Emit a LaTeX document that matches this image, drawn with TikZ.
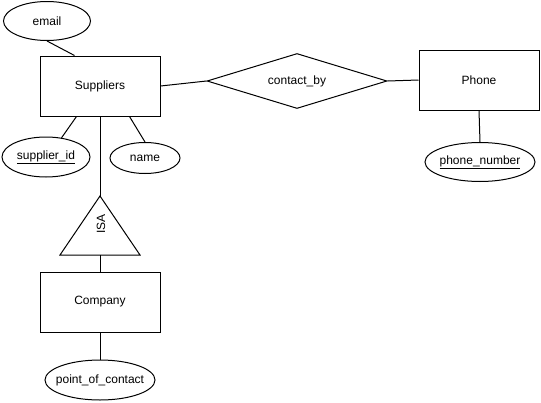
\documentclass[tikz,border=0pt]{standalone}
\usepackage{fontspec}
\setmainfont{Liberation Sans}
\usetikzlibrary{shapes.geometric}

% attribute labels take no width, so each ellipse keeps its set size
\newcommand{\attrlabel}[1]{\makebox[0pt]{#1}}

\begin{document}
\begin{tikzpicture}[x=1pt,y=-1pt,
  line width=1pt,
  every node/.style={font=\fontsize{12}{14}\selectfont, text=black},
  entity/.style={draw, rectangle, minimum width=120pt, minimum height=60pt, inner sep=0pt},
  attr/.style={draw, ellipse, inner sep=0pt},
  rel/.style={draw, diamond, aspect=3.27, inner sep=0pt, minimum width=180pt, minimum height=55pt},
  link/.style={draw}
]
\useasboundingbox (0,0) rectangle (541,402);

% entities
\node[entity] (Suppliers) at (100,86)  {Suppliers};
\node[entity] (Company)   at (100,302) {Company};
\node[entity] (Phone)     at (479,80)  {Phone};

% relationship
\node[rel] (contact) at (297,81) {contact\_by};

% attributes
\node[attr, minimum width=87pt,  minimum height=39pt] (email) at (47,21)   {\attrlabel{email}};
\node[attr, minimum width=88pt,  minimum height=40pt] (sid)   at (46,157)  {\attrlabel{\underline{supplier\_id}}};
\node[attr, minimum width=70pt,  minimum height=31pt] (name)  at (145,158) {\attrlabel{name}};
\node[attr, minimum width=110pt, minimum height=40pt] (poc)   at (100,380) {\attrlabel{point\_of\_contact}};
\node[attr, minimum width=110pt, minimum height=39pt] (pnum)  at (480,162) {\attrlabel{\underline{phone\_number}}};

% ISA triangle
\coordinate (apex)  at (100,196);
\coordinate (baseL) at (60,255);
\coordinate (baseR) at (140,255);
\coordinate (baseM) at (100,255);
\draw (apex) -- (baseR) -- (baseL) -- cycle;
\node[rotate=90, inner sep=0pt] (isa) at (101,224) {ISA};

% connectors
\draw[link] (email.south) -- ([xshift=35pt]Suppliers.north west);
\draw[link] (sid.51) -- ([xshift=37pt]Suppliers.south west);
\draw[link] (name.north) -- ([xshift=90pt]Suppliers.south west);
\draw[link] (Suppliers.south) -- (apex);
\draw[link] (baseM) -- (Company.north);
\draw[link] (Company.south) -- (poc.north);
\draw[link] (Suppliers.east) -- (contact.west);
\draw[link] (contact.east) -- (Phone.west);
\draw[link] (Phone.south) -- (pnum.north);
\end{tikzpicture}
\end{document}
